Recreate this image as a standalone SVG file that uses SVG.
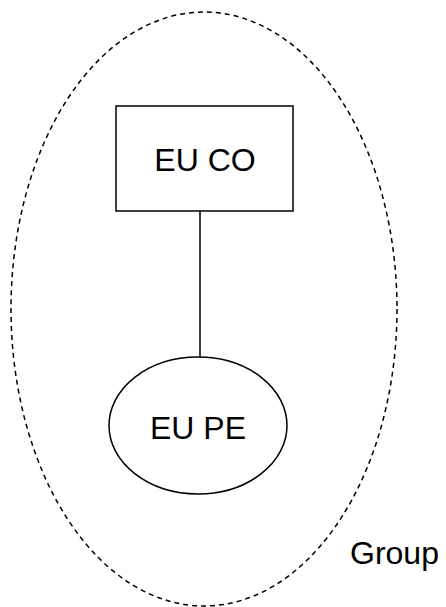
<svg xmlns="http://www.w3.org/2000/svg" width="446" height="607" viewBox="0 0 446 607">
  <style>
    .shape { fill: #ffffff; stroke: #000000; stroke-width: 1.5; }
    .group { fill: none; stroke: #000000; stroke-width: 1.5; stroke-dasharray: 5 4; }
    .label { font-family: "Liberation Sans", Arial, sans-serif; font-size: 32px; fill: #000000; }
    .wire { stroke: #000000; stroke-width: 1.5; fill: none; }
  </style>
  <rect width="446" height="607" fill="#ffffff"/>

  <!-- dashed group boundary -->
  <g id="group">
    <ellipse class="group" cx="204" cy="309" rx="193" ry="297"/>
    <text class="label" x="350" y="564">Group</text>
  </g>

  <!-- connectors -->
  <g id="connectors">
    <line class="wire" x1="200" y1="211" x2="200" y2="357"/>
  </g>

  <g id="eu-co">
    <rect class="shape" x="116" y="106" width="177" height="105"/>
    <text class="label" x="205" y="171" text-anchor="middle">EU CO</text>
  </g>

  <g id="eu-pe">
    <ellipse class="shape" cx="198" cy="425.5" rx="89" ry="68.5"/>
    <text class="label" x="198" y="439" text-anchor="middle">EU PE</text>
  </g>
</svg>
